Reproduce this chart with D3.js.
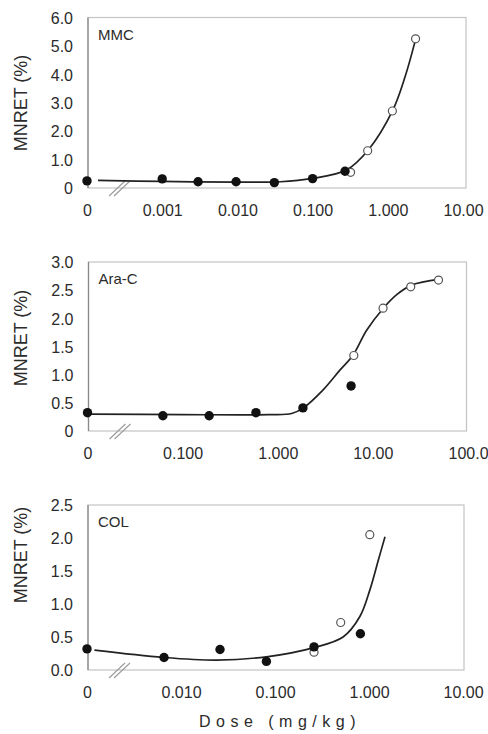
<!DOCTYPE html>
<html>
<head>
<meta charset="utf-8">
<script src="https://cdn.jsdelivr.net/npm/d3@7"></script>
<style>
  body { margin: 0; background: #fff; }
  text { font-family: "Liberation Sans", Arial, sans-serif; fill: #2b2b2b; }
</style>
</head>
<body>
<div id="chart"></div>
<script>
// ---- data (dose in mg/kg, MNRET in %) ----
// MMC
var mmcFilledDose  = [0, 0.001, 0.003, 0.0096, 0.031, 0.1, 0.27];
var mmcFilledValue = [0.25, 0.32, 0.22, 0.22, 0.19, 0.33, 0.59];
var mmcOpenDose    = [0.32, 0.54, 1.15, 2.34];
var mmcOpenValue   = [0.55, 1.31, 2.71, 5.25];
var mmcCurveDose   = [0.00014, 0.001, 0.01, 0.037, 0.1, 0.28, 0.55, 1.17, 1.7, 2.3];
var mmcCurveValue  = [0.27, 0.23, 0.21, 0.22, 0.34, 0.63, 1.34, 2.75, 3.92, 5.15];
var mmcXTicks      = [0, 0.001, 0.01, 0.1, 1, 10];
var mmcXLabels     = ["0", "0.001", "0.010", "0.100", "1.000", "10.00"];
var mmcYTicks      = [0, 1, 2, 3, 4, 5, 6];
var mmcYLabels     = ["0", "1.0", "2.0", "3.0", "4.0", "5.0", "6.0"];

// Ara-C
var araFilledDose  = [0, 0.062, 0.19, 0.59, 1.84, 5.9];
var araFilledValue = [0.325, 0.27, 0.27, 0.325, 0.41, 0.80];
var araOpenDose    = [6.3, 12.8, 25, 49];
var araOpenValue   = [1.34, 2.18, 2.56, 2.68];
var araCurveDose   = [0.0105, 0.1, 0.8, 1.4, 1.86, 3.0, 4.5, 6.2, 8.6, 12.9, 17.8, 25.6, 50];
var araCurveValue  = [0.30, 0.29, 0.29, 0.31, 0.41, 0.73, 1.08, 1.35, 1.79, 2.18, 2.42, 2.59, 2.69];
var araXTicks      = [0, 0.1, 1, 10, 100];
var araXLabels     = ["0", "0.100", "1.000", "10.00", "100.0"];
var araYTicks      = [0, 0.5, 1, 1.5, 2, 2.5, 3];
var araYLabels     = ["0", "0.5", "1.0", "1.5", "2.0", "2.5", "3.0"];

// COL
var colFilledDose  = [0, 0.0066, 0.026, 0.081, 0.26, 0.81];
var colFilledValue = [0.32, 0.19, 0.31, 0.13, 0.35, 0.55];
var colOpenDose    = [0.26, 0.50, 1.02];
var colOpenValue   = [0.27, 0.72, 2.05];
var colCurveDose   = [0.0012, 0.0065, 0.024, 0.081, 0.26, 0.53, 0.80, 1.02, 1.26, 1.48];
var colCurveValue  = [0.30, 0.19, 0.15, 0.20, 0.34, 0.50, 0.81, 1.21, 1.67, 2.02];
var colXTicks      = [0, 0.01, 0.1, 1, 10];
var colXLabels     = ["0", "0.010", "0.100", "1.000", "10.00"];
var colYTicks      = [0, 0.5, 1, 1.5, 2, 2.5];
var colYLabels     = ["0.0", "0.5", "1.0", "1.5", "2.0", "2.5"];

var width = 488, height = 734;

var svg = d3.select("#chart").append("svg")
  .attr("width", width).attr("height", height);

// one entry per panel, layout in pixels
var panels = [
  { name: "MMC", top: 17.5, bottom: 188, left: 87, right: 463, boxRight: 466,
    xMin: 1e-4, xMax: 10, yMax: 6, labelMid: 103,
    fDose: mmcFilledDose, fVal: mmcFilledValue, oDose: mmcOpenDose, oVal: mmcOpenValue,
    cDose: mmcCurveDose, cVal: mmcCurveValue,
    xTicks: mmcXTicks, xLabels: mmcXLabels, yTicks: mmcYTicks, yLabels: mmcYLabels },
  { name: "Ara-C", top: 262, bottom: 431, left: 87.5, right: 468, boxRight: 466.5,
    xMin: 0.01, xMax: 100, yMax: 3, labelMid: 338,
    fDose: araFilledDose, fVal: araFilledValue, oDose: araOpenDose, oVal: araOpenValue,
    cDose: araCurveDose, cVal: araCurveValue,
    xTicks: araXTicks, xLabels: araXLabels, yTicks: araYTicks, yLabels: araYLabels },
  { name: "COL", top: 505, bottom: 670, left: 87, right: 463, boxRight: 464,
    xMin: 0.001, xMax: 10, yMax: 2.5, labelMid: 555,
    fDose: colFilledDose, fVal: colFilledValue, oDose: colOpenDose, oVal: colOpenValue,
    cDose: colCurveDose, cVal: colCurveValue,
    xTicks: colXTicks, xLabels: colXLabels, yTicks: colYTicks, yLabels: colYLabels }
];

panels.forEach(function(p) {
  var x = d3.scaleLog().domain([p.xMin, p.xMax]).range([p.left, p.right]);
  var y = d3.scaleLinear().domain([0, p.yMax]).range([p.bottom, p.top]);
  // control group (dose 0) sits at the left end of the axis
  var xPos = function(d) { return d === 0 ? x(p.xMin) : x(d); };

  var g = svg.append("g");

  // frame
  g.append("rect")
    .attr("x", p.left + 1).attr("y", p.top)
    .attr("width", p.boxRight - p.left - 1).attr("height", p.bottom - p.top)
    .attr("fill", "none").attr("stroke", "#c4c4c4").attr("stroke-width", 1.2);
  g.append("line")
    .attr("x1", p.left + 1).attr("x2", p.left + 1)
    .attr("y1", p.top).attr("y2", p.bottom)
    .attr("stroke", "#8a8a8a").attr("stroke-width", 1.3);

  // x axis (labels only)
  var xAxis = d3.axisBottom(x)
    .tickValues(p.xTicks.map(function(d) { return d === 0 ? p.xMin : d; }))
    .tickFormat(function(d, i) { return p.xLabels[i]; })
    .tickSize(0).tickPadding(17);
  var xa = g.append("g").attr("transform", "translate(0," + p.bottom + ")").call(xAxis);
  xa.select(".domain").remove();
  xa.selectAll("text").attr("font-size", 16).attr("font-family", null).attr("fill", "#2b2b2b");

  // y axis (labels only)
  var yAxis = d3.axisLeft(y)
    .tickValues(p.yTicks)
    .tickFormat(function(d, i) { return p.yLabels[i]; })
    .tickSize(0).tickPadding(14);
  var ya = g.append("g").attr("transform", "translate(" + p.left + ",0)").call(yAxis);
  ya.select(".domain").remove();
  ya.selectAll("text").attr("font-size", 16).attr("font-family", null).attr("fill", "#2b2b2b")
    .attr("dy", "0.36em");

  // axis break marks
  var bx = p.left + 30;
  [0, 5].forEach(function(o) {
    g.append("line")
      .attr("x1", bx + o - 8).attr("y1", p.bottom + 8)
      .attr("x2", bx + o + 8).attr("y2", p.bottom - 7)
      .attr("stroke", "#9a9a9a").attr("stroke-width", 1.1);
  });

  // fitted curve
  var curve = p.cDose.map(function(d, i) { return [d, p.cVal[i]]; });
  g.append("path")
    .datum(curve)
    .attr("fill", "none").attr("stroke", "#222").attr("stroke-width", 1.7)
    .attr("d", d3.line()
      .x(function(d) { return xPos(d[0]); })
      .y(function(d) { return y(d[1]); })
      .curve(d3.curveCatmullRom.alpha(0.5)));

  // open circles
  g.selectAll(".open")
    .data(p.oDose.map(function(d, i) { return [d, p.oVal[i]]; }))
    .enter().append("circle")
    .attr("cx", function(d) { return xPos(d[0]); })
    .attr("cy", function(d) { return y(d[1]); })
    .attr("r", 4)
    .attr("fill", "#fff").attr("stroke", "#555").attr("stroke-width", 1.2);

  // filled circles
  g.selectAll(".filled")
    .data(p.fDose.map(function(d, i) { return [d, p.fVal[i]]; }))
    .enter().append("circle")
    .attr("cx", function(d) { return xPos(d[0]); })
    .attr("cy", function(d) { return y(d[1]); })
    .attr("r", 4.7)
    .attr("fill", "#111");

  // panel name
  g.append("text")
    .attr("x", p.left + 11).attr("y", p.top + 22)
    .attr("font-size", 15)
    .text(p.name);

  // y title
  g.append("text")
    .attr("transform", "translate(27," + p.labelMid + ") rotate(-90)")
    .attr("text-anchor", "middle")
    .attr("font-size", 18)
    .text("MNRET (%)");
});

// x title
svg.append("text")
  .attr("x", 280).attr("y", 727)
  .attr("text-anchor", "middle")
  .attr("font-size", 16)
  .attr("letter-spacing", 5.5)
  .text("Dose (mg/kg)");
</script>
</body>
</html>
